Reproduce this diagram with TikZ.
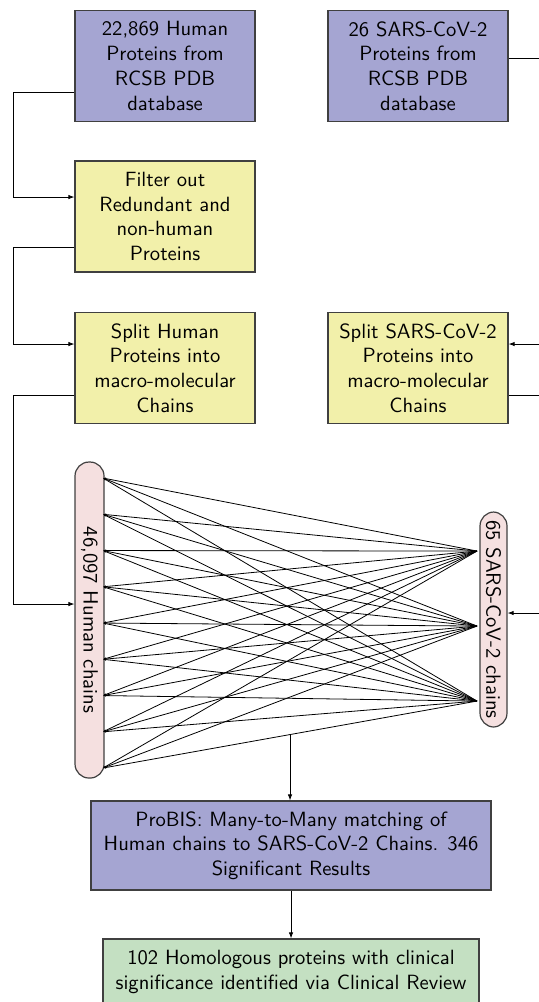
\documentclass[tikz,border=0pt]{standalone}
\usepackage{graphicx}
\usetikzlibrary{arrows.meta,calc}
\definecolor{dbblue}{RGB}{165,165,210}
\definecolor{stepyellow}{RGB}{242,240,170}
\definecolor{chainpink}{RGB}{245,224,224}
\definecolor{reviewgreen}{RGB}{196,224,194}

\begin{document}
\begin{tikzpicture}[>={Latex[length=3pt,width=2.2pt]},line width=0.4pt,
    every node/.style={draw=black!75,line width=0.6pt,align=center,font=\sffamily\fontsize{10.3}{12.4}\selectfont},
    srcbox/.style={fill=dbblue,minimum width=90pt,minimum height=55.5pt},
    stepbox/.style={fill=stepyellow,minimum width=90pt,minimum height=55.5pt},
    chainbox/.style={fill=chainpink,rounded corners=7pt,inner sep=2pt}]
    \useasboundingbox (0,0) rectangle (9.454,-17.607);
    \node[srcbox] (hprot) at (2.900,-1.160) {22,869 Human\\Proteins from\\RCSB PDB\\database};
    \node[srcbox] (sprot) at (7.345,-1.160) {26 SARS-CoV-2\\Proteins from\\RCSB PDB\\database};
    \node[stepbox] (filter) at (2.900,-3.805) {Filter out\\Redundant and\\non-human\\Proteins};
    \node[stepbox] (hsplit) at (2.900,-6.467) {Split Human\\Proteins into\\macro-molecular\\Chains};
    \node[stepbox] (ssplit) at (7.345,-6.467) {Split SARS-CoV-2\\Proteins into\\macro-molecular\\Chains};
    \node[chainbox,minimum width=14.5pt,minimum height=158pt] (hchains) at (1.573,-10.895) {\rotatebox{-90}{46,097 Human chains}};
    \node[chainbox,minimum width=13.5pt,minimum height=107.5pt] (schains) at (8.672,-10.886) {\rotatebox{-90}{65 SARS-CoV-2 chains}};
    \node[srcbox,minimum width=200pt,minimum height=44.5pt] (probis) at (5.114,-14.858) {ProBIS: Many-to-Many matching of\\Human chains to SARS-CoV-2 Chains. 346\\Significant Results};
    \node[fill=reviewgreen,minimum width=188pt,minimum height=33pt] (review) at (5.114,-17.081) {102 Homologous proteins with clinical\\significance identified via Clinical Review};
    % human side of the pipeline
    \draw[->] ([yshift=-13pt]hprot.west) -- ++(-1.072,0) |- ([yshift=9.75pt]filter.west);
    \draw[->] ([yshift=-15.25pt]filter.west) -- ++(-1.072,0) |- ([yshift=12pt]hsplit.west);
    \draw[->] ([yshift=-13.5pt]hsplit.west) -- ++(-1.072,0) |- ([yshift=8pt]hchains.west);
    % virus side
    \draw[->] ([yshift=4pt]sprot.east) -- ++(1.072,0) |- ([yshift=12pt]ssplit.east);
    \draw[->] ([yshift=-13.5pt]ssplit.east) -- ++(1.072,0) |- ([yshift=3.25pt]schains.east);
    % many-to-many matching
    \foreach \i in {1,...,9}
      \coordinate (h\i) at (1.810,{-8.400-0.637*(\i-1)});
    \foreach \j in {1,2,3}
      \coordinate (s\j) at (8.382,{-9.683-1.318*(\j-1)});
    \foreach \i in {1,...,9}
      \foreach \j in {1,2,3}
        \draw[-{Latex[length=1.5pt,width=1.2pt]}] (s\j) -- (h\i);
    \coordinate (bundle) at ($(h9)!.5!(s3)$);
    \draw[->] (bundle) -- (bundle |- probis.north);
    \draw[->] (probis) -- (review);
\end{tikzpicture}
\end{document}
